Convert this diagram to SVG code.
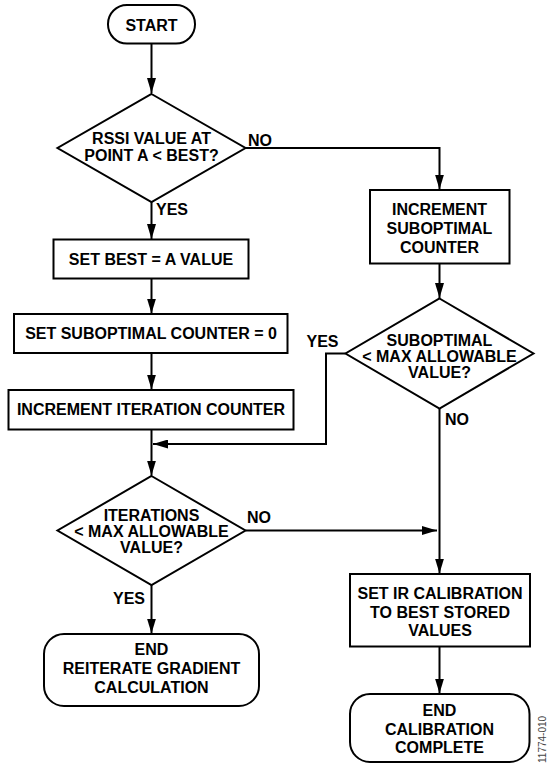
<svg xmlns="http://www.w3.org/2000/svg" width="548" height="766" viewBox="0 0 548 766">
<defs>
<marker id="ah" markerUnits="userSpaceOnUse" markerWidth="15" markerHeight="9" refX="15" refY="4.5" orient="auto">
<path d="M0,0 L15,4.5 L0,9 z" fill="#000"/>
</marker>
<style>
.s{fill:#fff;stroke:#000;stroke-width:2}
.t{font-family:"Liberation Sans",Arial,sans-serif;font-weight:bold;font-size:16px;fill:#000;text-anchor:middle}
.l{font-family:"Liberation Sans",Arial,sans-serif;font-weight:bold;font-size:16px;fill:#000}
.c{fill:none;stroke:#000;stroke-width:2;marker-end:url(#ah)}
</style>
</defs>
<rect width="548" height="766" fill="#fff"/>
<g id="connectors">
<path class="c" d="M151.5,43.5 V93"/>
<path class="c" d="M151.5,202 V239"/>
<path class="c" d="M151.5,278.5 V313.5"/>
<path class="c" d="M151.5,353 V389.5"/>
<path class="c" d="M151.5,429.5 V475.5"/>
<path class="c" d="M151.5,585 V633.5"/>
<path class="c" d="M245.5,148 H439.5 V189.5"/>
<path class="c" d="M439.5,263.5 V298"/>
<path class="c" d="M345.5,353.5 H326 V444 H153"/>
<path class="c" d="M439.5,408.5 V573.5"/>
<path class="c" d="M245.5,530.5 H437"/>
<path class="c" d="M439.5,646.5 V693.5"/>
<text class="l" x="248" y="145.5">NO</text>
<text class="l" x="156" y="215">YES</text>
<text class="l" x="306.5" y="346.5">YES</text>
<text class="l" x="445" y="425">NO</text>
<text class="l" x="247" y="522.5">NO</text>
<text class="l" x="145" y="604" text-anchor="end">YES</text>
</g>
<g id="start">
<rect class="s" x="108" y="5" width="87" height="38.5" rx="19"/>
<text class="t" x="151.5" y="31">START</text>
</g>
<g id="d1">
<polygon class="s" points="151.5,94 245.5,148 151.5,202 57.5,148"/>
<text class="t" x="151.5" y="144">RSSI VALUE AT</text>
<text class="t" x="151.5" y="160.5">POINT A &lt; BEST?</text>
</g>
<g id="b1">
<rect class="s" x="53.5" y="239.5" width="195" height="39"/>
<text class="t" x="151" y="264.5">SET BEST = A VALUE</text>
</g>
<g id="b2">
<rect class="s" x="14" y="314" width="273.5" height="39"/>
<text class="t" x="151" y="339">SET SUBOPTIMAL COUNTER = 0</text>
</g>
<g id="b3">
<rect class="s" x="8.5" y="390" width="285" height="39.5"/>
<text class="t" x="151" y="415">INCREMENT ITERATION COUNTER</text>
</g>
<g id="d3">
<polygon class="s" points="151.5,476 245.5,530.5 151.5,585 57.5,530.5"/>
<text class="t" x="151.5" y="521">ITERATIONS</text>
<text class="t" x="151.5" y="537">&lt; MAX ALLOWABLE</text>
<text class="t" x="151.5" y="553">VALUE?</text>
</g>
<g id="e1">
<rect class="s" x="44" y="634" width="215" height="72" rx="20"/>
<text class="t" x="151.5" y="655">END</text>
<text class="t" x="151.5" y="674">REITERATE GRADIENT</text>
<text class="t" x="151.5" y="692.5">CALCULATION</text>
</g>
<g id="r1">
<rect class="s" x="370" y="190" width="139.5" height="73.5"/>
<text class="t" x="439.5" y="215">INCREMENT</text>
<text class="t" x="439.5" y="234">SUBOPTIMAL</text>
<text class="t" x="439.5" y="252.5">COUNTER</text>
</g>
<g id="d2">
<polygon class="s" points="439.5,298.5 533.5,353.5 439.5,408.5 345.5,353.5"/>
<text class="t" x="439.5" y="346">SUBOPTIMAL</text>
<text class="t" x="439.5" y="361.5">&lt; MAX ALLOWABLE</text>
<text class="t" x="439.5" y="377.5">VALUE?</text>
</g>
<g id="r2">
<rect class="s" x="350" y="574" width="180" height="72.5"/>
<text class="t" x="440" y="599">SET IR CALIBRATION</text>
<text class="t" x="440" y="617.5">TO BEST STORED</text>
<text class="t" x="440" y="636">VALUES</text>
</g>
<g id="e2">
<rect class="s" x="350" y="694" width="179.5" height="68" rx="20"/>
<text class="t" x="439.5" y="716">END</text>
<text class="t" x="439.5" y="735">CALIBRATION</text>
<text class="t" x="439.5" y="753">COMPLETE</text>
</g>
<text x="546" y="763" transform="rotate(-90 546 763)" font-family="'Liberation Sans',Arial,sans-serif" font-size="10" fill="#444">11774-010</text>
</svg>
